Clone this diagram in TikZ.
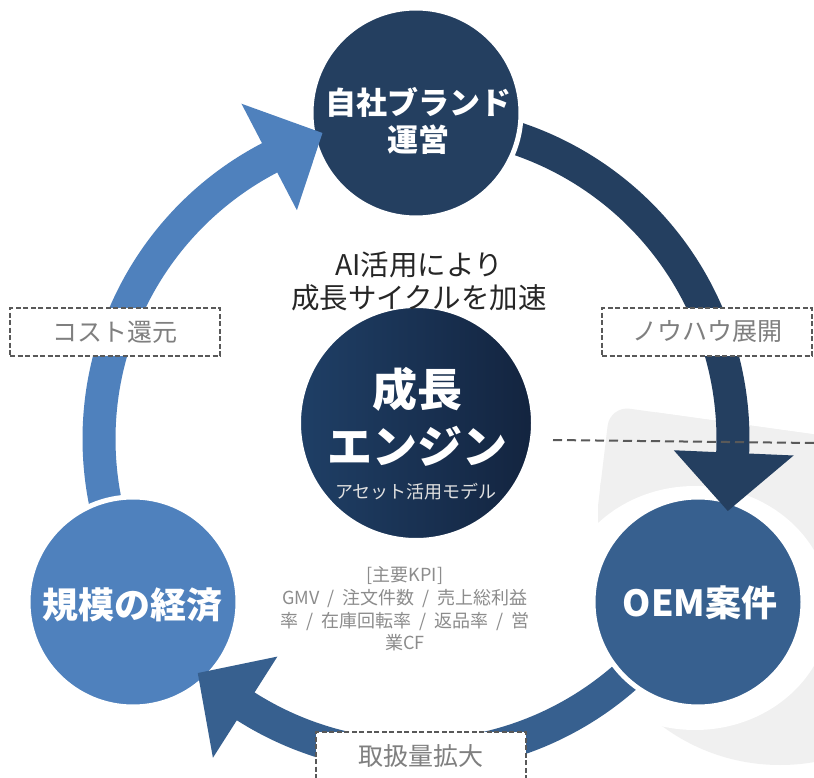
\documentclass[tikz,border=0pt]{standalone}
\usepackage{fontspec}
\setmainfont{Noto Sans CJK JP}
\usetikzlibrary{calc}
\definecolor{navy}{HTML}{243F60}
\definecolor{midblue}{HTML}{37608F}
\definecolor{lightblue}{HTML}{4F81BD}
\definecolor{cgradL}{HTML}{1F3F66}
\definecolor{cgradR}{HTML}{13243F}
\definecolor{bggray}{HTML}{F0F0F0}
\definecolor{boxline}{HTML}{595959}
\definecolor{labeltext}{HTML}{7F7F7F}
\definecolor{kpitext}{HTML}{8C8C8C}
\definecolor{headtext}{HTML}{262626}
\definecolor{subtext}{HTML}{E0E0E0}
\newcommand{\sepsl}{\hspace{0.45em}/\hspace{0.45em}}
\tikzset{
  stagecircle/.style={circle, draw=white, line width=5pt, minimum size=210pt, inner sep=0pt},
  stagetext/.style={text=white, align=center, font=\bfseries\fontsize{36}{42}\selectfont},
  labelbox/.style={draw=boxline, line width=1.8pt, dash pattern=on 5pt off 2.5pt, fill=white,
    minimum width=210pt, minimum height=48pt, inner sep=0pt, text=labeltext,
    font=\fontsize{25}{30}\selectfont},
  shaft/.style={line width=33pt, line cap=butt},
}
\begin{document}
\begin{tikzpicture}[x=1pt,y=-1pt]
\useasboundingbox (0,0) rectangle (814,778);
\fill[white] (0,0) rectangle (814,778);

% background decoration
\fill[bggray, rounded corners=20pt] (610,406) -- (840,438) -- (840,560) -- (598,506) -- cycle;
\begin{scope}
  \clip (610,406) -- (840,438) -- (840,800) -- (598,800) -- (598,506) -- cycle;
  \fill[bggray] (780,567) circle[radius=198];
\end{scope}
\fill[white] (695,608) ellipse[x radius=135, y radius=122];

% arrow shafts (visual math angles around the ring centre)
\begin{scope}[shift={(416,439)}, y=1pt]
  \draw[shaft, navy] (90:317) arc[start angle=90, end angle=-3.5, radius=317];
  \draw[shaft, midblue] (-30:317) arc[start angle=-30, end angle=-123.5, radius=317];
  \draw[shaft, lightblue] (210:317) arc[start angle=210, end angle=116.5, radius=317];
\end{scope}

% stage circles
\node[stagecircle, fill=navy] (brand) at (416,113) {};
\node[stagecircle, fill=midblue] (oem) at (698,602) {};
\node[stagecircle, fill=lightblue] (scale) at (133,602) {};
\node[circle, draw=white, line width=4pt, minimum size=234pt, inner sep=0pt,
      left color=cgradL, right color=cgradR] (engine) at (416,423) {};

% arrow heads
\begin{scope}[shift={(416,439)}, y=1pt]
  \fill[navy] (-2.5:258) -- (-2.5:378) -- (-13:320) -- cycle;
  \fill[midblue] (-122.5:258) -- (-122.5:378) -- (-133:320) -- cycle;
  \fill[lightblue] (117.5:258) -- (117.5:378) -- (107:320) -- cycle;
\end{scope}

% stage texts
\node[stagetext, font=\bfseries\fontsize{31}{37}\selectfont] (brandtext) at (418,121) {自社ブランド\\運営};
\node[stagetext] (oemtext) at (700,603) {OEM案件};
\node[stagetext] (scaletext) at (132,605) {規模の経済};

% centre texts
\node[text=headtext, align=center, font=\fontsize{28.5}{33}\selectfont] (aitext) at (419,281)
  {AI活用により\\成長サイクルを加速};
\node[text=white, align=center, font=\bfseries\fontsize{45}{57}\selectfont] (enginetext) at (417,417)
  {成長\\エンジン};
\node[text=subtext, font=\fontsize{18}{22}\selectfont] (enginesub) at (416,492) {アセット活用モデル};
\node[text=kpitext, align=center, font=\fontsize{18}{22.7}\selectfont] (kpi) at (405,609)
  {[主要KPI]\\GMV\sepsl 注文件数\sepsl 売上総利益\\率\sepsl 在庫回転率\sepsl 返品率\sepsl 営\\業CF};

% labels
\node[labelbox] (cost) at (115,332) {コスト還元};
\node[labelbox] (know) at (707,332) {ノウハウ展開};
\node[labelbox] (volume) at (421,756) {取扱量拡大};

% dashed line
\coordinate (dashL) at (553,440);
\coordinate (dashR) at (814,443);
\draw[boxline, line width=2pt, dash pattern=on 9pt off 5pt] (dashL) -- (dashR);
\end{tikzpicture}
\end{document}
